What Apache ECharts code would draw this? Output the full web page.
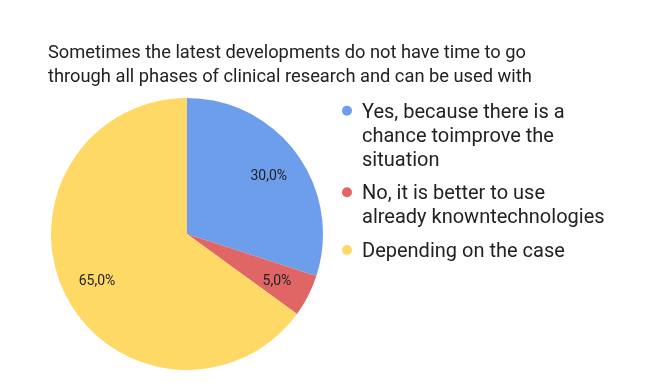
<!DOCTYPE html>
<html><head><meta charset="utf-8">
<script src="https://cdn.jsdelivr.net/npm/echarts@6/dist/echarts.min.js"></script>
<style>html,body{margin:0;padding:0;background:#fff}#c{width:646px;height:386px}</style>
</head><body><div id="c"></div>
<script>
var titleLines = ['Sometimes the latest developments do not have time to go', 'through all phases of clinical research and can be used with'];
var categories = ['Yes, because there is a chance toimprove the situation', 'No, it is better to use already knowntechnologies', 'Depending on the case'];
var legendLines = [['Yes, because there is a', 'chance toimprove the', 'situation'], ['No, it is better to use', 'already knowntechnologies'], ['Depending on the case']];
var values = [30, 5, 65];
var pctLabels = ['30,0%', '5,0%', '65,0%'];
var colors = ['#6d9eeb', '#e06666', '#ffd966'];

var FONT = 'Roboto';
var LH = 24;
var DROP = 2;
var legendCenters = [110.7, 192.3, 250];
var data = categories.map(function (c, i) { return { name: c, value: values[i], itemStyle: { color: colors[i] } }; });
var legends = categories.map(function (c, i) {
  var n = legendLines[i].length;
  var X = 2 * DROP + LH * (n - 1);
  return {
    show: true, orient: 'vertical', left: 342, top: legendCenters[i] - (X + LH * n) / 2, padding: 0,
    icon: 'circle', itemWidth: 10, itemHeight: 10, selectedMode: false,
    data: [c],
    formatter: function () {
      return ['{s| }'].concat(legendLines[i].map(function (l) { return '{t|' + l + '}'; })).join('\n');
    },
    textStyle: {
      fontFamily: FONT, fontSize: 20, color: '#222222', lineHeight: LH, padding: [0, 0, 0, 5],
      rich: {
        s: { fontFamily: FONT, fontSize: 2, lineHeight: X, color: '#222222' },
        t: { fontFamily: FONT, fontSize: 20, lineHeight: LH, color: '#222222' }
      }
    }
  };
});
var chart = echarts.init(document.getElementById('c'), null, { renderer: 'canvas' });
chart.setOption({
  animation: false,
  title: { text: titleLines.join('\n'), left: 48, top: 41, padding: 0,
    textStyle: { fontFamily: FONT, fontSize: 18.3, fontWeight: 'normal', color: '#222222', lineHeight: 24 } },
  legend: legends,
  series: [{
    type: 'pie', center: [187, 234], radius: [0, 136], startAngle: 90, clockwise: true,
    data: data, label: { show: false }, labelLine: { show: false }, emphasis: { disabled: true }, silent: true
  }, {
    type: 'pie', center: [187, 234], radius: [60, 136], startAngle: 90, clockwise: true,
    data: data.map(function (d, i) { return { name: d.name, value: d.value, itemStyle: { color: 'rgba(0,0,0,0)' }, label: { formatter: pctLabels[i] } }; }),
    label: { show: true, position: 'inside', offset: [0, 2], fontFamily: FONT, fontSize: 14, color: '#222222' },
    labelLine: { show: false }, emphasis: { disabled: true }, silent: true, legendHoverLink: false
  }]
});
</script></body></html>
